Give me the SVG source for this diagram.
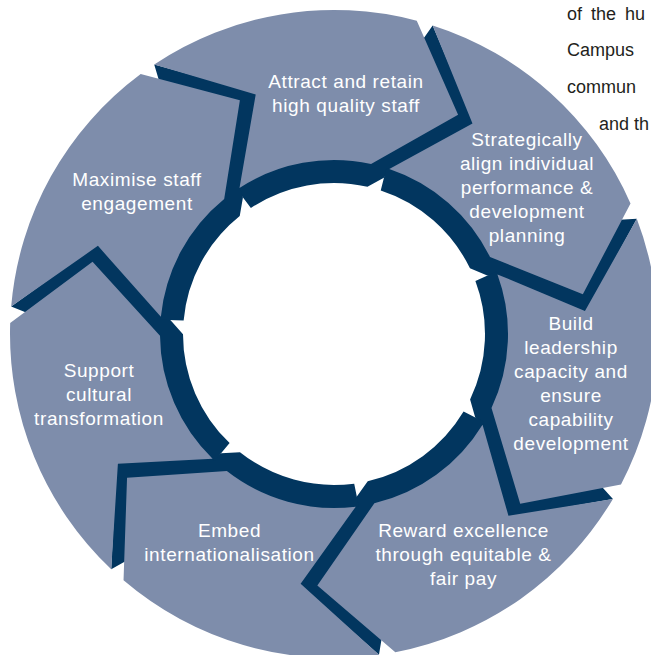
<svg xmlns="http://www.w3.org/2000/svg" width="651" height="655" viewBox="0 0 651 655">
<style>
.seg{fill:#7e8dab}
.wall{fill:#02365f}
.lbl{font-family:"Liberation Sans",Arial,sans-serif;font-size:19px;letter-spacing:0.6px;fill:#ffffff;text-anchor:middle}
.side{font-family:"Liberation Sans",Arial,sans-serif;font-size:18px;fill:#231f20}
</style>
<defs>
<path id="segShape" d="M0,-324 A324,324 0 0 1 242.66,-214.69 L224.93,-113.62 L125.17,-120.87 A174,174 0 0 0 2.43,-173.98 L67.77,-242.72 Z"/>
<path id="wallShape" d="M0.79,-150.99 A151,151 0 0 1 109.53,-103.94 L128.17,-102.32 L135.95,-105.36 L233.15,-95.62 L253.32,-202.01 L237.66,-195.91 L160.70,-191.51 L34.73,-196.96 L9.26,-176.76 L-0.61,-174.0 Z"/>
</defs>
<g id="side-text" class="side">
<text x="567" y="20" word-spacing="4">of the hu</text>
<text x="567" y="56">Campus</text>
<text x="567" y="93">commun</text>
<text x="599" y="130">and th</text>
</g>
<g id="walls">
<use href="#wallShape" class="wall" transform="translate(334 334) rotate(-33.7)"/>
<use href="#wallShape" class="wall" transform="translate(334 334) rotate(17.73)"/>
<use href="#wallShape" class="wall" transform="translate(334 334) rotate(69.16)"/>
<use href="#wallShape" class="wall" transform="translate(334 334) rotate(120.59)"/>
<use href="#wallShape" class="wall" transform="translate(334 334) rotate(172.01)"/>
<use href="#wallShape" class="wall" transform="translate(334 334) rotate(223.44)"/>
<use href="#wallShape" class="wall" transform="translate(334 334) rotate(274.87)"/>
</g>
<g id="node-attract">
<use href="#segShape" class="seg" transform="translate(334 334) rotate(-33.7)"/>
<text class="lbl"><tspan x="346" y="88">Attract and retain</tspan><tspan x="346" y="112">high quality staff</tspan></text>
</g>
<g id="node-strategically">
<use href="#segShape" class="seg" transform="translate(334 334) rotate(17.73)"/>
<text class="lbl"><tspan x="527" y="146">Strategically</tspan><tspan x="527" y="170">align individual</tspan><tspan x="527" y="194">performance &amp;</tspan><tspan x="527" y="218">development</tspan><tspan x="527" y="242">planning</tspan></text>
</g>
<g id="node-build">
<use href="#segShape" class="seg" transform="translate(334 334) rotate(69.16)"/>
<text class="lbl"><tspan x="571" y="330">Build</tspan><tspan x="571" y="354">leadership</tspan><tspan x="571" y="378">capacity and</tspan><tspan x="571" y="402">ensure</tspan><tspan x="571" y="426">capability</tspan><tspan x="571" y="450">development</tspan></text>
</g>
<g id="node-reward">
<use href="#segShape" class="seg" transform="translate(334 334) rotate(120.59)"/>
<text class="lbl"><tspan x="463.5" y="537">Reward excellence</tspan><tspan x="463.5" y="561">through equitable &amp;</tspan><tspan x="463.5" y="585">fair pay</tspan></text>
</g>
<g id="node-embed">
<use href="#segShape" class="seg" transform="translate(334 334) rotate(172.01)"/>
<text class="lbl"><tspan x="229.5" y="537">Embed</tspan><tspan x="229.5" y="561">internationalisation</tspan></text>
</g>
<g id="node-support">
<use href="#segShape" class="seg" transform="translate(334 334) rotate(223.44)"/>
<text class="lbl"><tspan x="99" y="377">Support</tspan><tspan x="99" y="401">cultural</tspan><tspan x="99" y="425">transformation</tspan></text>
</g>
<g id="node-maximise">
<use href="#segShape" class="seg" transform="translate(334 334) rotate(274.87)"/>
<text class="lbl"><tspan x="137" y="186">Maximise staff</tspan><tspan x="137" y="210">engagement</tspan></text>
</g>
</svg>
